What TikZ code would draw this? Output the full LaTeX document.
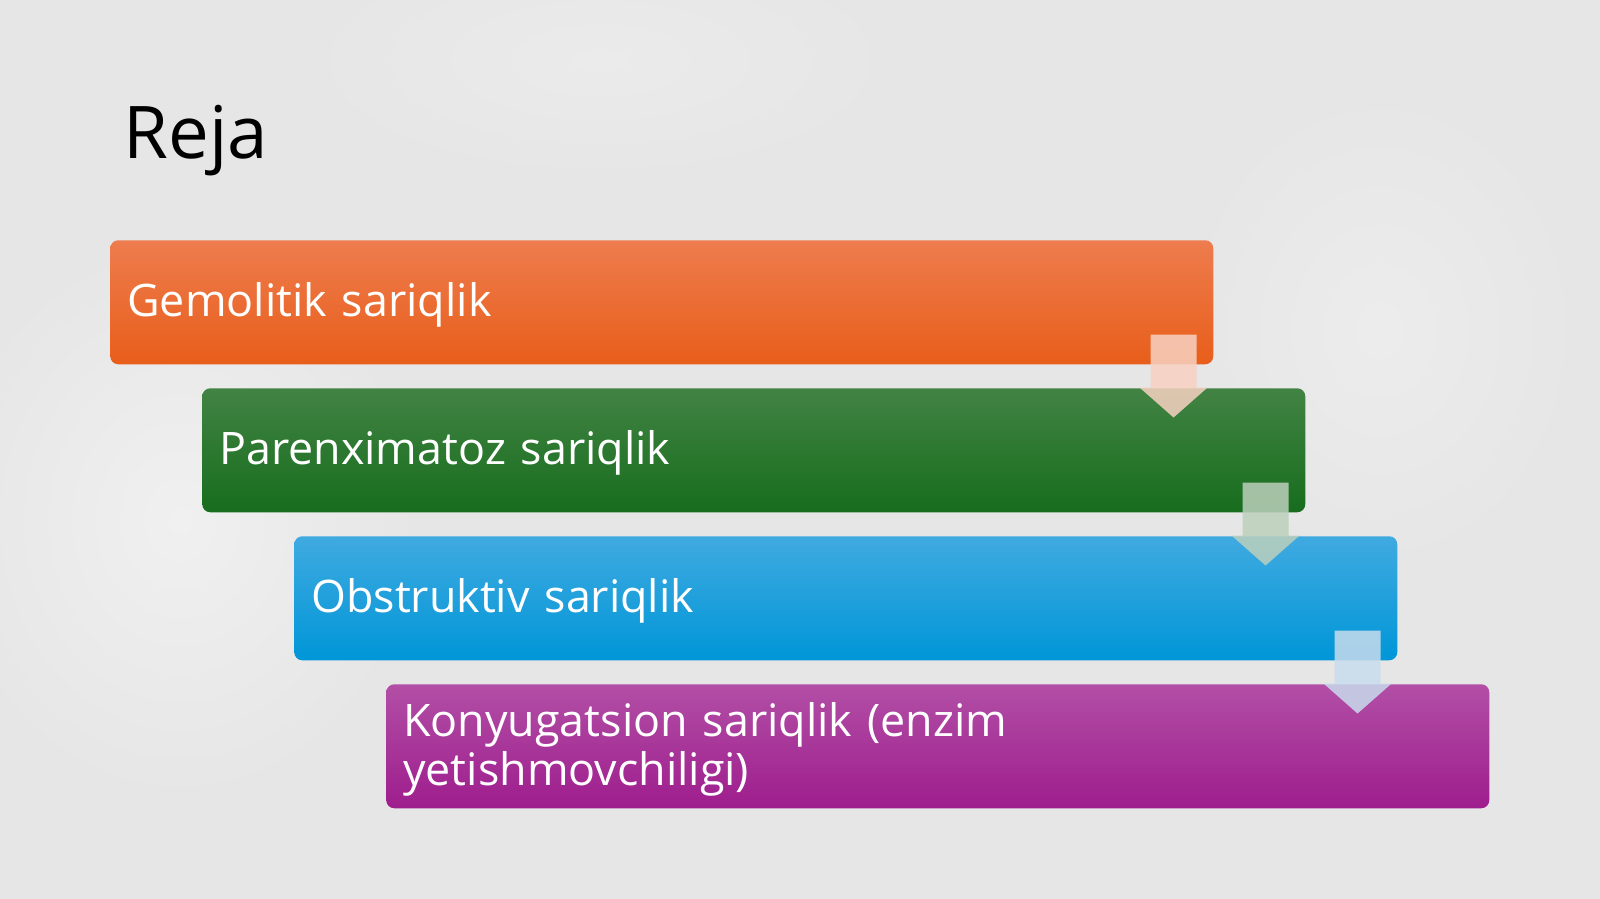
\documentclass[tikz,border=0pt]{standalone}
\usepackage{fontspec}
\setmainfont{Open Sans}
\definecolor{bg}{HTML}{E6E6E6}
\definecolor{orTop}{HTML}{EE7C4E}
\definecolor{orBot}{HTML}{E85E1A}
\definecolor{grTop}{HTML}{428344}
\definecolor{grBot}{HTML}{176D1D}
\definecolor{blTop}{HTML}{40AAE0}
\definecolor{blBot}{HTML}{0096D8}
\definecolor{puTop}{HTML}{B24FA6}
\definecolor{puBot}{HTML}{9E1D8D}
\definecolor{arOr}{HTML}{F8D2C2}
\definecolor{arGr}{HTML}{BCD0BC}
\definecolor{arBl}{HTML}{C8DCEC}
\begin{document}
\begin{tikzpicture}[x=0.75pt,y=-0.75pt,
  box/.style={anchor=north west, rounded corners=6pt, minimum width=827.25pt,
    minimum height=93pt, inner xsep=12.75pt, inner ysep=0pt, text width=801.75pt,
    align=left, text=white, font=\fontsize{33.6}{36.75}\selectfont,
    execute at end node={\endgraf\vspace{-4.5pt}}},
  arrowshape/.style={opacity=0.85}]
\useasboundingbox (0,0) rectangle (1600,899);
\fill[bg] (0,0) rectangle (1600,899);
\shade[inner color=white!40!bg, outer color=bg] (180,520) ellipse (240 and 280);
\shade[inner color=white!25!bg, outer color=bg] (1380,330) ellipse (200 and 240);
\shade[inner color=white!20!bg, outer color=bg] (600,60) ellipse (300 and 120);

\node[anchor=base west, font=\fontsize{54.5}{65}\selectfont] (title) at (119,158) {Reja};

\node[box, top color=orTop, bottom color=orBot] (o) at (110,240) {Gemolitik sariqlik};
\node[box, top color=grTop, bottom color=grBot] (g) at (202,388) {Parenximatoz sariqlik};
\node[box, top color=blTop, bottom color=blBot] (b) at (294,536) {Obstruktiv sariqlik};
\node[box, top color=puTop, bottom color=puBot] (p) at (386,684) {Konyugatsion sariqlik (enzim\\yetishmovchiligi)};

\foreach \n/\c in {o/arOr, g/arGr, b/arBl}{
  \begin{scope}[shift={(\n.south east)}]
    \fill[\c, arrowshape] (-63,-30) -- (-17,-30) -- (-17,23) -- (-6,23) -- (-40,53)
      -- (-74,23) -- (-63,23) -- cycle;
  \end{scope}
}
\end{tikzpicture}
\end{document}
